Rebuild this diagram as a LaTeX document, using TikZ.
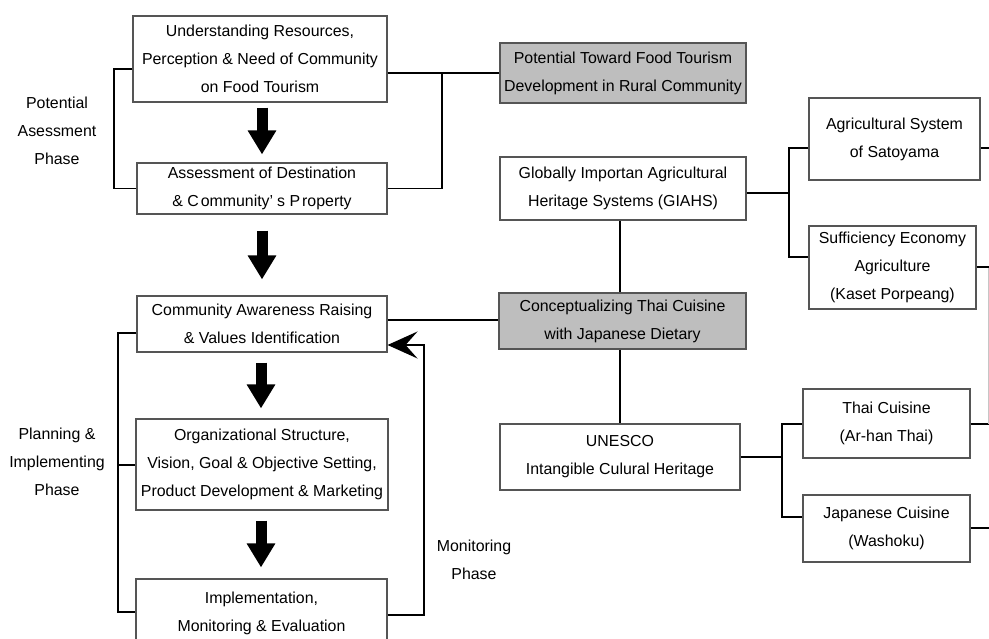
\documentclass[tikz,border=0pt]{standalone}
\usepackage{fontspec}
\setmainfont{Liberation Sans}
\usetikzlibrary{arrows.meta}
\definecolor{boxedge}{HTML}{555555}
\definecolor{shade}{HTML}{BEBEBE}
\tikzset{
  box/.style={draw=boxedge, line width=1.1pt, fill=white, inner sep=0pt, align=center,
    font=\fontsize{15.9}{28}\selectfont},
  keybox/.style={box, fill=shade},
  conn/.style={draw=black, line width=1.9pt},
  blockarrow/.style={draw=black, line width=11pt, -{Triangle[width=27pt,length=24pt]}},
  phase/.style={align=center, inner sep=0pt, font=\fontsize{15.9}{28}\selectfont},
}
\begin{document}
\begin{tikzpicture}[x=1pt, y=-1pt]
\useasboundingbox (0,0) rectangle (989,639);
\clip (0,0) rectangle (989,639);

% left column: phases of the process
\node[box, minimum width=254pt, minimum height=86pt] (A) at (260,59)
  {Understanding Resources,\\Perception \& Need of Community\\on Food Tourism};
\node[box, minimum width=250pt, minimum height=51pt] (B) at (262,188.5)
  {Assessment of Destination\\\& C\hspace{2pt}ommunity’\hspace{4pt}s P\hspace{2pt}roperty};
\node[box, minimum width=250pt, minimum height=56pt] (C) at (262,324)
  {Community Awareness Raising\\\& Values Identification};
\node[box, minimum width=252pt, minimum height=91pt] (D) at (262,464.5)
  {Organizational Structure,\\Vision, Goal \& Objective Setting,\\Product Development \& Marketing};
\node[box, minimum width=251pt, minimum height=68pt] (E) at (261.5,613)
  {Implementation,\\Monitoring \& Evaluation};

% phase labels
\node[phase] (p1) at (57,131) {Potential\\Asessment\\Phase};
\node[phase] (p2) at (57,462) {Planning \&\\Implementing\\Phase};
\node[phase] (p3) at (474,560) {Monitoring\\Phase};

% middle column
\node[keybox, minimum width=246pt, minimum height=60pt] (G1) at (623,73)
  {Potential Toward Food Tourism\\Development in Rural Community};
\node[box, minimum width=246pt, minimum height=63pt] (H) at (623,188.5)
  {Globally Importan Agricultural\\Heritage Systems (GIAHS)};
\node[keybox, minimum width=247pt, minimum height=56pt] (G2) at (622.5,321)
  {Conceptualizing Thai Cuisine\\with Japanese Dietary};
\node[box, minimum width=240pt, minimum height=66pt] (U) at (620,457)
  {UNESCO\\Intangible Culural Heritage};

% right column
\node[box, minimum width=171pt, minimum height=82pt] (S1) at (894.5,139)
  {Agricultural System\\of Satoyama};
\node[box, minimum width=167pt, minimum height=83pt] (S2) at (892.5,267.5)
  {Sufficiency Economy\\Agriculture\\(Kaset Porpeang)};
\node[box, minimum width=167pt, minimum height=69pt] (T) at (886.5,423.5)
  {Thai Cuisine\\(Ar-han Thai)};
\node[box, minimum width=167pt, minimum height=67pt] (J) at (886.5,528.5)
  {Japanese Cuisine\\(Washoku)};

% free ends running off the right margin
\coordinate (r1) at (989,148);
\coordinate (r2) at (989,267);
\coordinate (r3) at (989,424);
\coordinate (r4) at (989,528);

% block arrows between the steps
\draw[blockarrow] ([yshift=-5pt]A.south -| 262,0) -- ([yshift=8pt]B.north -| 262,0);
\draw[blockarrow] ([yshift=-16pt]B.south) -- ([yshift=16pt]C.north);
\draw[blockarrow] ([yshift=-10pt]C.south -| 261,0) -- ([yshift=10pt]D.north -| 261,0);
\draw[blockarrow] ([yshift=-10pt]D.south -| 261,0) -- ([yshift=11pt]E.north -| 261,0);

% brackets and links
\draw[conn] (A.west |- 0,69) -- (114,69) |- (B.west);
\draw[conn] (A.east |- 0,73) -- (G1.west);
\draw[conn] (442,73) |- (B.east);
\draw[conn] (C.east |- 0,320) -- (G2.west |- 0,320);
\draw[conn] (H.south -| 620,0) -- (G2.north -| 620,0);
\draw[conn] (G2.south -| 620,0) -- (U.north);
\draw[conn] (H.east |- 0,193) -- (789,193);
\draw[conn] (S1.west |- 0,148) -- (789,148) -- (789,257) -- (S2.west |- 0,257);
\draw[conn] (U.east) -- (782,457);
\draw[conn] (T.west |- 0,424) -- (782,424) -- (782,517) -- (J.west |- 0,517);
\draw[conn] (S1.east |- 0,148) -- (r1);
\draw[conn] (S2.east |- 0,267) -- (r2);
\draw[conn] (T.east |- 0,424) -- (r3);
\draw[conn] (J.east |- 0,528) -- (r4);
\draw[gray!45, line width=0.8pt] (988,268) -- (988,424);

% planning bracket
\draw[conn] (C.west |- 0,333) -- (118,333) -- (118,612) -- (E.west |- 0,612);
\draw[conn] (118,465) -- (D.west |- 0,465);

% monitoring feedback loop
\draw[conn, -{Stealth[length=30pt,width=27pt,inset=12pt]}]
  (E.east |- 0,615) -- (424,615) -- (424,345) -- (C.east |- 0,345);
\end{tikzpicture}
\end{document}
